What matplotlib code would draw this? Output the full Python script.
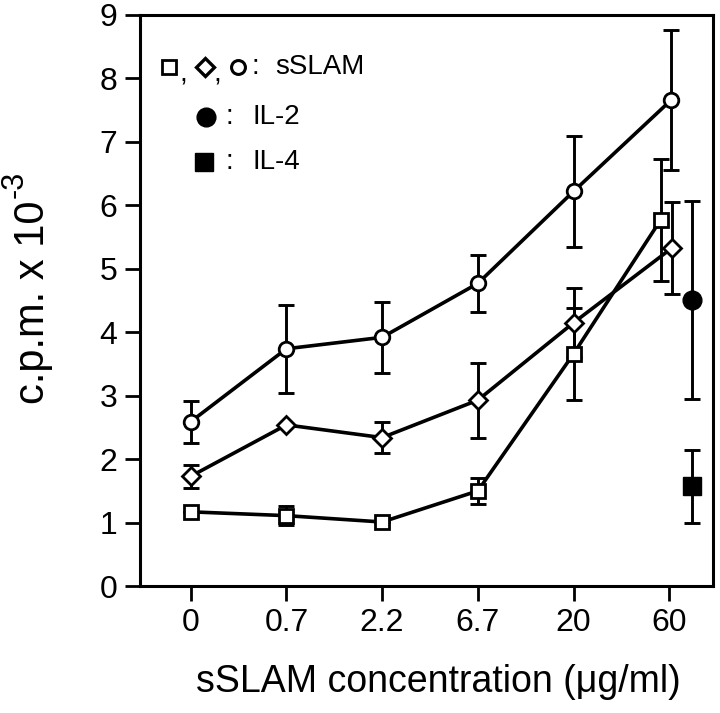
import matplotlib
matplotlib.use('Agg')
import matplotlib.pyplot as plt

plt.rcParams['font.family'] = ['Liberation Sans', 'DejaVu Sans']

# concentrations (categorical axis)
conc_labels = ['0', '0.7', '2.2', '6.7', '20', '60']

# x positions of the points (the 60 group is slightly staggered)
x_sq = [0, 1, 2, 3, 4, 4.91]
x_dm = [0, 1, 2, 3, 4, 5.03]
x_ci = [0, 1, 2, 3, 4, 5.02]

# sSLAM series (c.p.m. x 10^-3)
sq_mean = [1.17, 1.11, 1.01, 1.50, 3.66, 5.77]
sq_err = [0, 0.15, 0, 0.21, 0.72, 0.96]
dm_mean = [1.73, 2.54, 2.34, 2.93, 4.15, 5.33]
dm_err = [0.18, 0, 0.24, 0.59, 0.54, 0.72]
ci_mean = [2.59, 3.74, 3.92, 4.77, 6.22, 7.66]
ci_err = [0.33, 0.69, 0.56, 0.45, 0.88, 1.11]

# controls
il_x = 5.24
il2_mean, il2_err = 4.51, 1.56
il4_mean, il4_err = 1.57, 0.57

fig = plt.figure(figsize=(7.2, 7.13), dpi=100)
ax = fig.add_axes([0.194, 0.178, 0.796, 0.801])

lw = 2.6
ebkw = dict(fmt='none', ecolor='black', elinewidth=2.1, capsize=5.8, capthick=2.1, zorder=2)

ax.errorbar(x_sq, sq_mean, yerr=sq_err, **ebkw)
ax.errorbar(x_dm, dm_mean, yerr=dm_err, **ebkw)
ax.errorbar(x_ci, ci_mean, yerr=ci_err, **ebkw)
ax.errorbar([il_x], [il2_mean], yerr=[il2_err], **ebkw)
ax.errorbar([il_x], [il4_mean], yerr=[il4_err], **ebkw)

ax.plot(x_sq, sq_mean, color='black', lw=lw, marker='s', ms=10, mfc='white', mec='black', mew=2.0, zorder=3)
ax.plot(x_dm, dm_mean, color='black', lw=lw, marker='D', ms=9, mfc='white', mec='black', mew=2.0, zorder=3)
ax.plot(x_ci, ci_mean, color='black', lw=lw, marker='o', ms=10.5, mfc='white', mec='black', mew=2.0, zorder=3)
ax.plot([il_x], [il2_mean], marker='o', ms=13.5, color='black', zorder=4)
ax.plot([il_x], [il4_mean], marker='s', ms=13, color='black', zorder=4)

ax.set_xlim(-0.533, 5.455)
ax.set_ylim(0, 9)
ax.set_xticks(range(len(conc_labels)))
ax.set_xticklabels(conc_labels)
ax.set_yticks(range(10))

for s in ax.spines.values():
    s.set_linewidth(2.2)
ax.tick_params(direction='out', length=11, width=2.0, labelsize=23, pad=5)

# axis titles
fig.text(438 / 720, 1 - 682 / 713, 'sSLAM concentration (\u03bcg/ml)', fontsize=27,
         ha='center', va='center')
fig.text(33 / 720, 1 - 404 / 713, 'c.p.m. x 10', fontsize=30, rotation=90,
         ha='center', va='bottom')
fig.text(15 / 720, 1 - 198 / 713, '-3', fontsize=22, rotation=90,
         ha='center', va='bottom')

# legend drawn by hand
T = ax.transAxes
mk = dict(transform=T, color='black', clip_on=False, zorder=5)
ax.plot([0.052], [0.909], marker='s', ms=9.5, mfc='white', mec='black', mew=2.0, transform=T, clip_on=False)
ax.plot([0.114], [0.909], marker='D', ms=9, mfc='white', mec='black', mew=2.4, transform=T, clip_on=False)
ax.plot([0.171], [0.909], marker='o', ms=10, mfc='white', mec='black', mew=2.2, transform=T, clip_on=False)
ax.text(0.076, 0.895, ',', transform=T, fontsize=20, ha='center', va='center')
ax.text(0.136, 0.895, ',', transform=T, fontsize=20, ha='center', va='center')
ax.text(0.202, 0.909, ':', transform=T, fontsize=20, ha='center', va='center')
ax.text(0.237, 0.909, 'sSLAM', transform=T, fontsize=20, ha='left', va='center')

ax.plot([0.1155], [0.821], marker='o', ms=13.5, linestyle='none', **mk)
ax.text(0.157, 0.821, ':', transform=T, fontsize=20, ha='center', va='center')
ax.text(0.196, 0.821, 'IL-2', transform=T, fontsize=20, ha='left', va='center')

ax.plot([0.113], [0.743], marker='s', ms=13, linestyle='none', **mk)
ax.text(0.157, 0.743, ':', transform=T, fontsize=20, ha='center', va='center')
ax.text(0.196, 0.743, 'IL-4', transform=T, fontsize=20, ha='left', va='center')

fig.savefig('out.png', dpi=100)
